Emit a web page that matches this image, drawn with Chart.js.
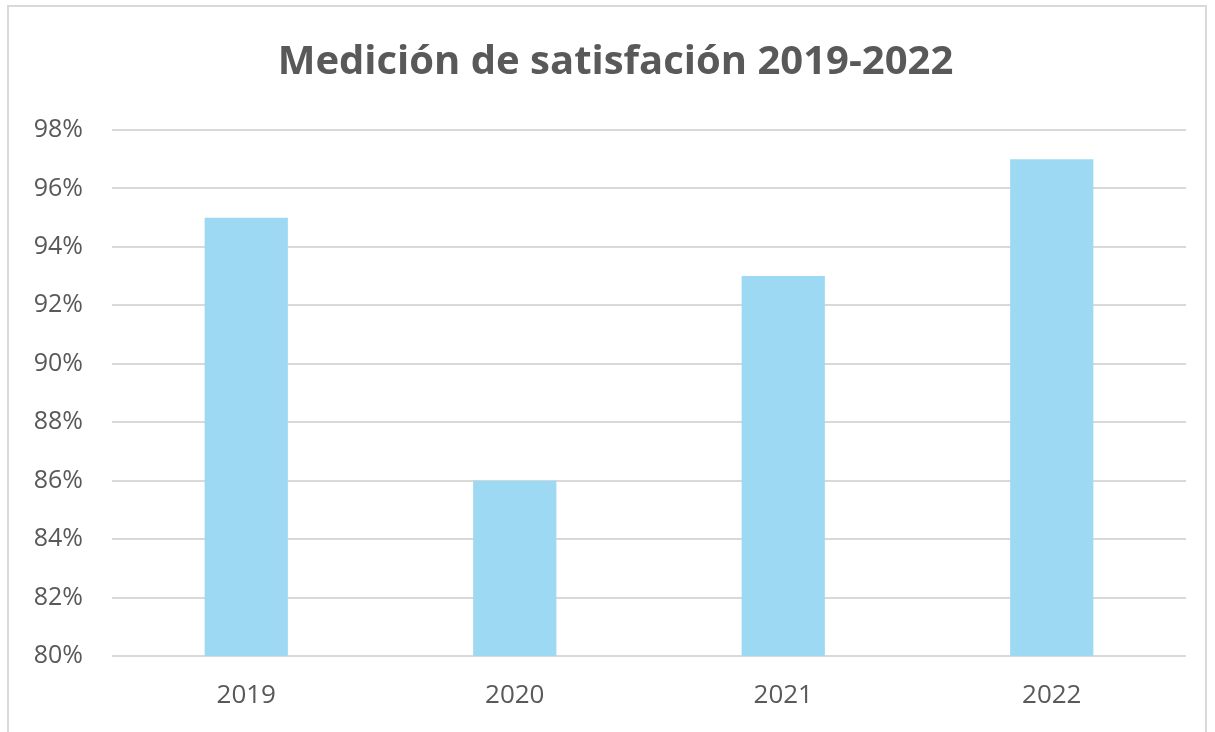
<!DOCTYPE html>
<html>
<head>
<meta charset="utf-8">
<script src="https://cdn.jsdelivr.net/npm/chart.js@4"></script>
<style>
  body { margin: 0; background: #fff; }
  #box {
    position: absolute; left: 7px; top: 5px;
    width: 1196px; height: 730px;
    border: 2px solid #d9d9d9; border-bottom: none;
  }
</style>
</head>
<body>
<div id="box"><canvas id="chart" width="1196" height="727"></canvas></div>
<script>
const years = ['2019', '2020', '2021', '2022'];
const satisfaction = [0.95, 0.86, 0.93, 0.97];
const titleText = 'Medición de satisfación 2019-2022';

// title sits centred on the whole frame, not on the plot
const titleShift = {
  id: 'titleShift',
  afterLayout(chart) {
    const t = chart.titleBlock;
    if (t) { t.left += 18; t.right += 18; }
  }
};

new Chart(document.getElementById('chart'), {
  type: 'bar',
  data: {
    labels: years,
    datasets: [{
      data: satisfaction,
      backgroundColor: '#9dd9f2',
      categoryPercentage: 1,
      barPercentage: 0.31
    }]
  },
  options: {
    responsive: false,
    animation: false,
    layout: { padding: { left: 0, right: 19, top: 0, bottom: 0 } },
    plugins: {
      legend: { display: false },
      tooltip: { enabled: false },
      title: {
        display: true,
        text: titleText,
        color: '#595959',
        font: { family: 'Open Sans', size: 40, weight: 'bold' },
        padding: { top: 32, bottom: 43 }
      }
    },
    scales: {
      x: {
        grid: { display: false, drawTicks: false },
        border: { display: false },
        ticks: { color: '#595959', font: { family: 'Open Sans', size: 26 }, padding: 24 },
        afterFit: s => { s.height = 78; }
      },
      y: {
        min: 0.80,
        max: 0.98,
        ticks: {
          stepSize: 0.02,
          color: '#595959',
          font: { family: 'Open Sans', size: 25 },
          padding: 29,
          callback: v => Math.round(v * 100) + '%'
        },
        grid: { color: '#d9d9d9', lineWidth: 2, drawTicks: false },
        border: { display: false },
        afterFit: s => { s.width = 103; }
      }
    }
  },
  plugins: [titleShift]
});
</script>
</body>
</html>
